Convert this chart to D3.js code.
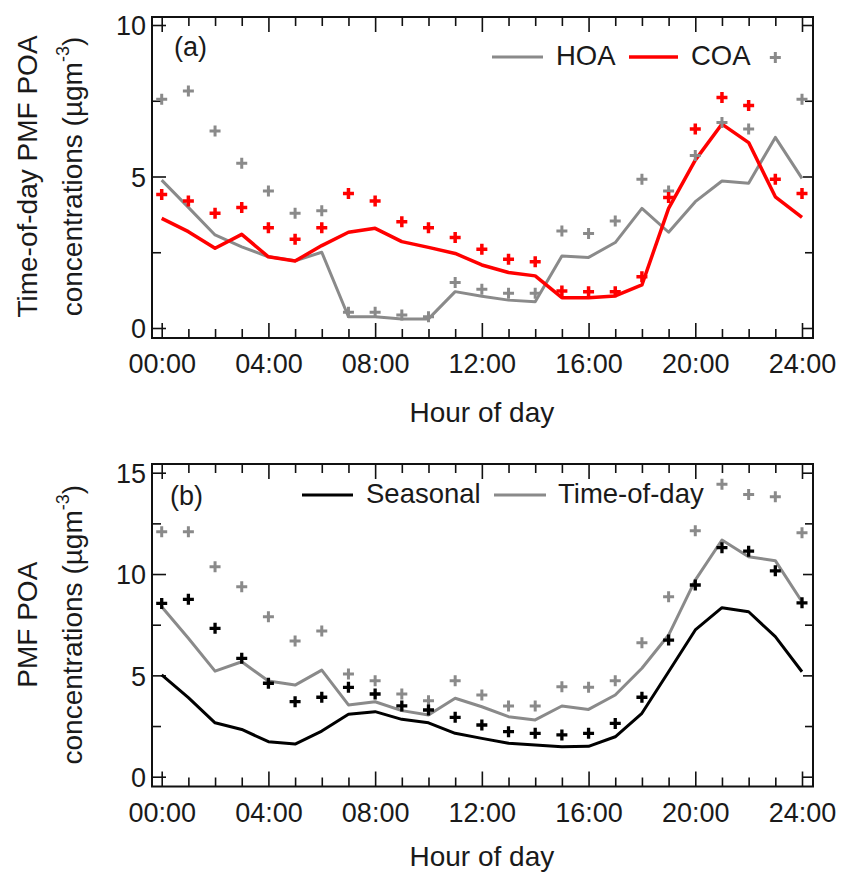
<!DOCTYPE html>
<html>
<head>
<meta charset="utf-8">
<script src="https://cdn.jsdelivr.net/npm/d3@7"></script>
<style>
  html, body { margin: 0; padding: 0; background: #fff; }
  svg { display: block; font-family: "Liberation Sans", Arial, Helvetica, sans-serif; }
  .tick text { fill: #1a1a1a; }
</style>
</head>
<body>
<svg id="chart" width="842" height="873"></svg>
<script>
// Hour of day (x categories)
const hours = [0, 1, 2, 3, 4, 5, 6, 7, 8, 9, 10, 11, 12, 13, 14, 15, 16, 17, 18, 19, 20, 21, 22, 23, 24];
const hourTicks = [0, 4, 8, 12, 16, 20, 24];
const hourTickLabels = ["00:00", "04:00", "08:00", "12:00", "16:00", "20:00", "24:00"];

// Panel (a): time-of-day PMF factors, µg m-3
const hoaLine = [4.88, 3.98, 3.07, 2.68, 2.35, 2.22, 2.5, 0.37, 0.37, 0.3, 0.3, 1.2, 1.05, 0.92, 0.87, 2.38, 2.33, 2.82, 3.95, 3.16, 4.17, 4.85, 4.78, 6.29, 4.94];
const coaLine = [3.62, 3.18, 2.63, 3.09, 2.35, 2.21, 2.72, 3.16, 3.29, 2.85, 2.66, 2.46, 2.08, 1.83, 1.72, 1.0, 1.0, 1.06, 1.42, 3.95, 5.54, 6.73, 6.12, 4.33, 3.65];
const hoaPoints = [7.55, 7.82, 6.5, 5.44, 4.52, 3.79, 3.87, 0.52, 0.52, 0.43, 0.37, 1.5, 1.28, 1.15, 1.15, 3.2, 3.12, 3.53, 4.91, 4.52, 5.69, 6.78, 6.57, 8.93, 7.55];
const coaPoints = [4.41, 4.19, 3.79, 3.98, 3.31, 2.93, 3.31, 4.44, 4.19, 3.51, 3.31, 2.99, 2.6, 2.27, 2.19, 1.22, 1.2, 1.2, 1.69, 4.31, 6.57, 7.61, 7.34, 4.91, 4.44];

// Panel (b): total PMF POA, µg m-3
const seasonalLine = [5.02, 3.9, 2.66, 2.33, 1.73, 1.61, 2.25, 3.08, 3.21, 2.83, 2.66, 2.14, 1.89, 1.65, 1.56, 1.48, 1.5, 1.97, 3.13, 5.18, 7.24, 8.34, 8.14, 6.91, 5.18];
const timeOfDayLine = [8.39, 6.83, 5.21, 5.67, 4.72, 4.52, 5.26, 3.54, 3.7, 3.26, 3.04, 3.87, 3.45, 2.96, 2.8, 3.49, 3.32, 4.03, 5.35, 6.99, 9.7, 11.68, 10.85, 10.66, 8.63];
const seasonalPoints = [8.55, 8.75, 7.32, 5.84, 4.61, 3.7, 3.92, 4.41, 4.08, 3.49, 3.29, 2.93, 2.55, 2.22, 2.14, 2.06, 2.14, 2.63, 3.92, 6.74, 9.46, 11.3, 11.13, 10.16, 8.58];
const timeOfDayPoints = [12.09, 12.09, 10.36, 9.37, 7.89, 6.69, 7.19, 5.07, 4.74, 4.08, 3.75, 4.74, 4.03, 3.49, 3.49, 4.44, 4.41, 4.74, 6.61, 8.88, 12.14, 14.43, 13.93, 13.81, 12.04];

const GRAY = "#8a8a8a", RED = "#ff0000", BLACK = "#000000", TEXT = "#1a1a1a";

const svg = d3.select("#chart");
const x = d3.scaleLinear().domain([0, 24]).range([161.7, 802]);

function panel(cfg) {
  const g = svg.append("g");
  const y = d3.scaleLinear().domain([0, cfg.ymax]).range([cfg.y0, cfg.yTop]);
  const fx0 = 152, fx1 = 813, fy0 = cfg.frameTop, fy1 = cfg.frameBottom;

  // frame
  g.append("rect").attr("x", fx0).attr("y", fy0).attr("width", fx1 - fx0).attr("height", fy1 - fy0)
    .attr("fill", "none").attr("stroke", "#111").attr("stroke-width", 2);

  const minorHours = hours.filter(h => h % 4 !== 0);
  const yMajor = cfg.yTicks, yMinor = cfg.yMinor;

  function styleAxis(sel) {
    sel.select(".domain").remove();
    sel.selectAll(".tick line").attr("stroke", "#111").attr("stroke-width", 1.6);
    sel.selectAll(".tick text").attr("font-size", 27).attr("fill", TEXT);
  }

  // bottom axis (ticks pointing into the plot)
  g.append("g").attr("transform", `translate(0,${fy1})`)
    .call(d3.axisBottom(x).tickValues(hourTicks).tickSize(-15).tickPadding(0)
      .tickFormat((d, i) => hourTickLabels[i]))
    .call(styleAxis)
    .call(s => s.selectAll(".tick text").attr("y", 35).attr("dy", null));
  g.append("g").attr("transform", `translate(0,${fy1})`)
    .call(d3.axisBottom(x).tickValues(minorHours).tickSize(-9).tickFormat(""))
    .call(styleAxis);
  // top axis
  g.append("g").attr("transform", `translate(0,${fy0})`)
    .call(d3.axisTop(x).tickValues(hourTicks).tickSize(-15).tickFormat(""))
    .call(styleAxis);
  g.append("g").attr("transform", `translate(0,${fy0})`)
    .call(d3.axisTop(x).tickValues(minorHours).tickSize(-9).tickFormat(""))
    .call(styleAxis);
  // left axis
  g.append("g").attr("transform", `translate(${fx0},0)`)
    .call(d3.axisLeft(y).tickValues(yMajor).tickSize(-14).tickPadding(0).tickFormat(d3.format("d")))
    .call(styleAxis)
    .call(s => s.selectAll(".tick text").attr("x", -6).attr("dy", "0.36em").attr("text-anchor", "end"));
  g.append("g").attr("transform", `translate(${fx0},0)`)
    .call(d3.axisLeft(y).tickValues(yMinor).tickSize(-9).tickFormat(""))
    .call(styleAxis);
  // right axis
  g.append("g").attr("transform", `translate(${fx1},0)`)
    .call(d3.axisRight(y).tickValues(yMajor).tickSize(-10).tickFormat(""))
    .call(styleAxis);
  g.append("g").attr("transform", `translate(${fx1},0)`)
    .call(d3.axisRight(y).tickValues(yMinor).tickSize(-8).tickFormat(""))
    .call(styleAxis);

  // lines
  const line = d3.line().x((d, i) => x(hours[i])).y(d => y(d));
  cfg.lines.forEach(l => {
    g.append("path").datum(l.values).attr("d", line)
      .attr("fill", "none").attr("stroke", l.color).attr("stroke-width", l.width)
      .attr("stroke-linejoin", "round");
  });

  // cross markers
  const cross = "M-5.5,0H5.5M0,-5.5V5.5";
  cfg.points.forEach(p => {
    g.append("g").selectAll("path").data(p.values).join("path")
      .attr("transform", (d, i) => `translate(${x(hours[i])},${y(d)})`)
      .attr("d", cross).attr("stroke", p.color).attr("stroke-width", p.width).attr("fill", "none");
  });

  // panel tag
  g.append("text").attr("x", cfg.tagX).attr("y", cfg.tagY).attr("font-size", 27).attr("fill", TEXT).text(cfg.tag);

  // legend
  cfg.legend.forEach(item => {
    g.append("line").attr("x1", item.x1).attr("x2", item.x2).attr("y1", cfg.legendY).attr("y2", cfg.legendY)
      .attr("stroke", item.color).attr("stroke-width", item.width);
    g.append("text").attr("x", item.tx).attr("y", cfg.legendY + 8).attr("font-size", 27.5)
      .attr("fill", TEXT).text(item.label);
  });

  // x-axis title
  g.append("text").attr("x", (x(0) + x(24)) / 2).attr("y", fy1 + cfg.xTitleOffset).attr("text-anchor", "middle")
    .attr("font-size", 28).attr("fill", TEXT).text("Hour of day");

  // y-axis title (two lines, rotated)
  const cy = (cfg.y0 + cfg.yTop) / 2;
  g.append("text").attr("transform", `translate(36.5,${cy}) rotate(-90)`).attr("text-anchor", "middle")
    .attr("font-size", 28).attr("fill", TEXT).text(cfg.ylabel1);
  const t2 = g.append("text").attr("transform", `translate(81.5,${cy}) rotate(-90)`).attr("text-anchor", "middle")
    .attr("font-size", 28).attr("fill", TEXT);
  t2.append("tspan").text("concentrations (µgm");
  t2.append("tspan").attr("font-size", 18).attr("dy", -13).text("-3");
  t2.append("tspan").attr("dy", 13).text(")");
}

panel({
  ymax: 10, y0: 328, yTop: 25, frameTop: 17, frameBottom: 338, xTitleOffset: 83.5,
  yTicks: [0, 5, 10], yMinor: [2.5, 7.5],
  lines: [
    { values: hoaLine, color: GRAY, width: 3 },
    { values: coaLine, color: RED, width: 3.5 }
  ],
  points: [
    { values: hoaPoints, color: GRAY, width: 3 },
    { values: coaPoints, color: RED, width: 3.5 }
  ],
  tag: "(a)", tagX: 174, tagY: 56,
  legendY: 57,
  legend: [
    { x1: 492, x2: 543, color: GRAY, width: 3, tx: 556, label: "HOA" },
    { x1: 629, x2: 678, color: RED, width: 3.5, tx: 691, label: "COA" }
  ],
  ylabel1: "Time-of-day PMF POA"
});

panel({
  ymax: 15, y0: 776.7, yTop: 472.7, frameTop: 464, frameBottom: 786.5, xTitleOffset: 79.5,
  yTicks: [0, 5, 10, 15], yMinor: [2.5, 7.5, 12.5],
  lines: [
    { values: seasonalLine, color: BLACK, width: 3 },
    { values: timeOfDayLine, color: GRAY, width: 3 }
  ],
  points: [
    { values: timeOfDayPoints, color: GRAY, width: 3 },
    { values: seasonalPoints, color: BLACK, width: 3.3 }
  ],
  tag: "(b)", tagX: 170, tagY: 505,
  legendY: 495,
  legend: [
    { x1: 302, x2: 353, color: BLACK, width: 3, tx: 366, label: "Seasonal" },
    { x1: 494, x2: 546, color: GRAY, width: 3, tx: 558, label: "Time-of-day" }
  ],
  ylabel1: "PMF POA"
});
</script>
</body>
</html>
